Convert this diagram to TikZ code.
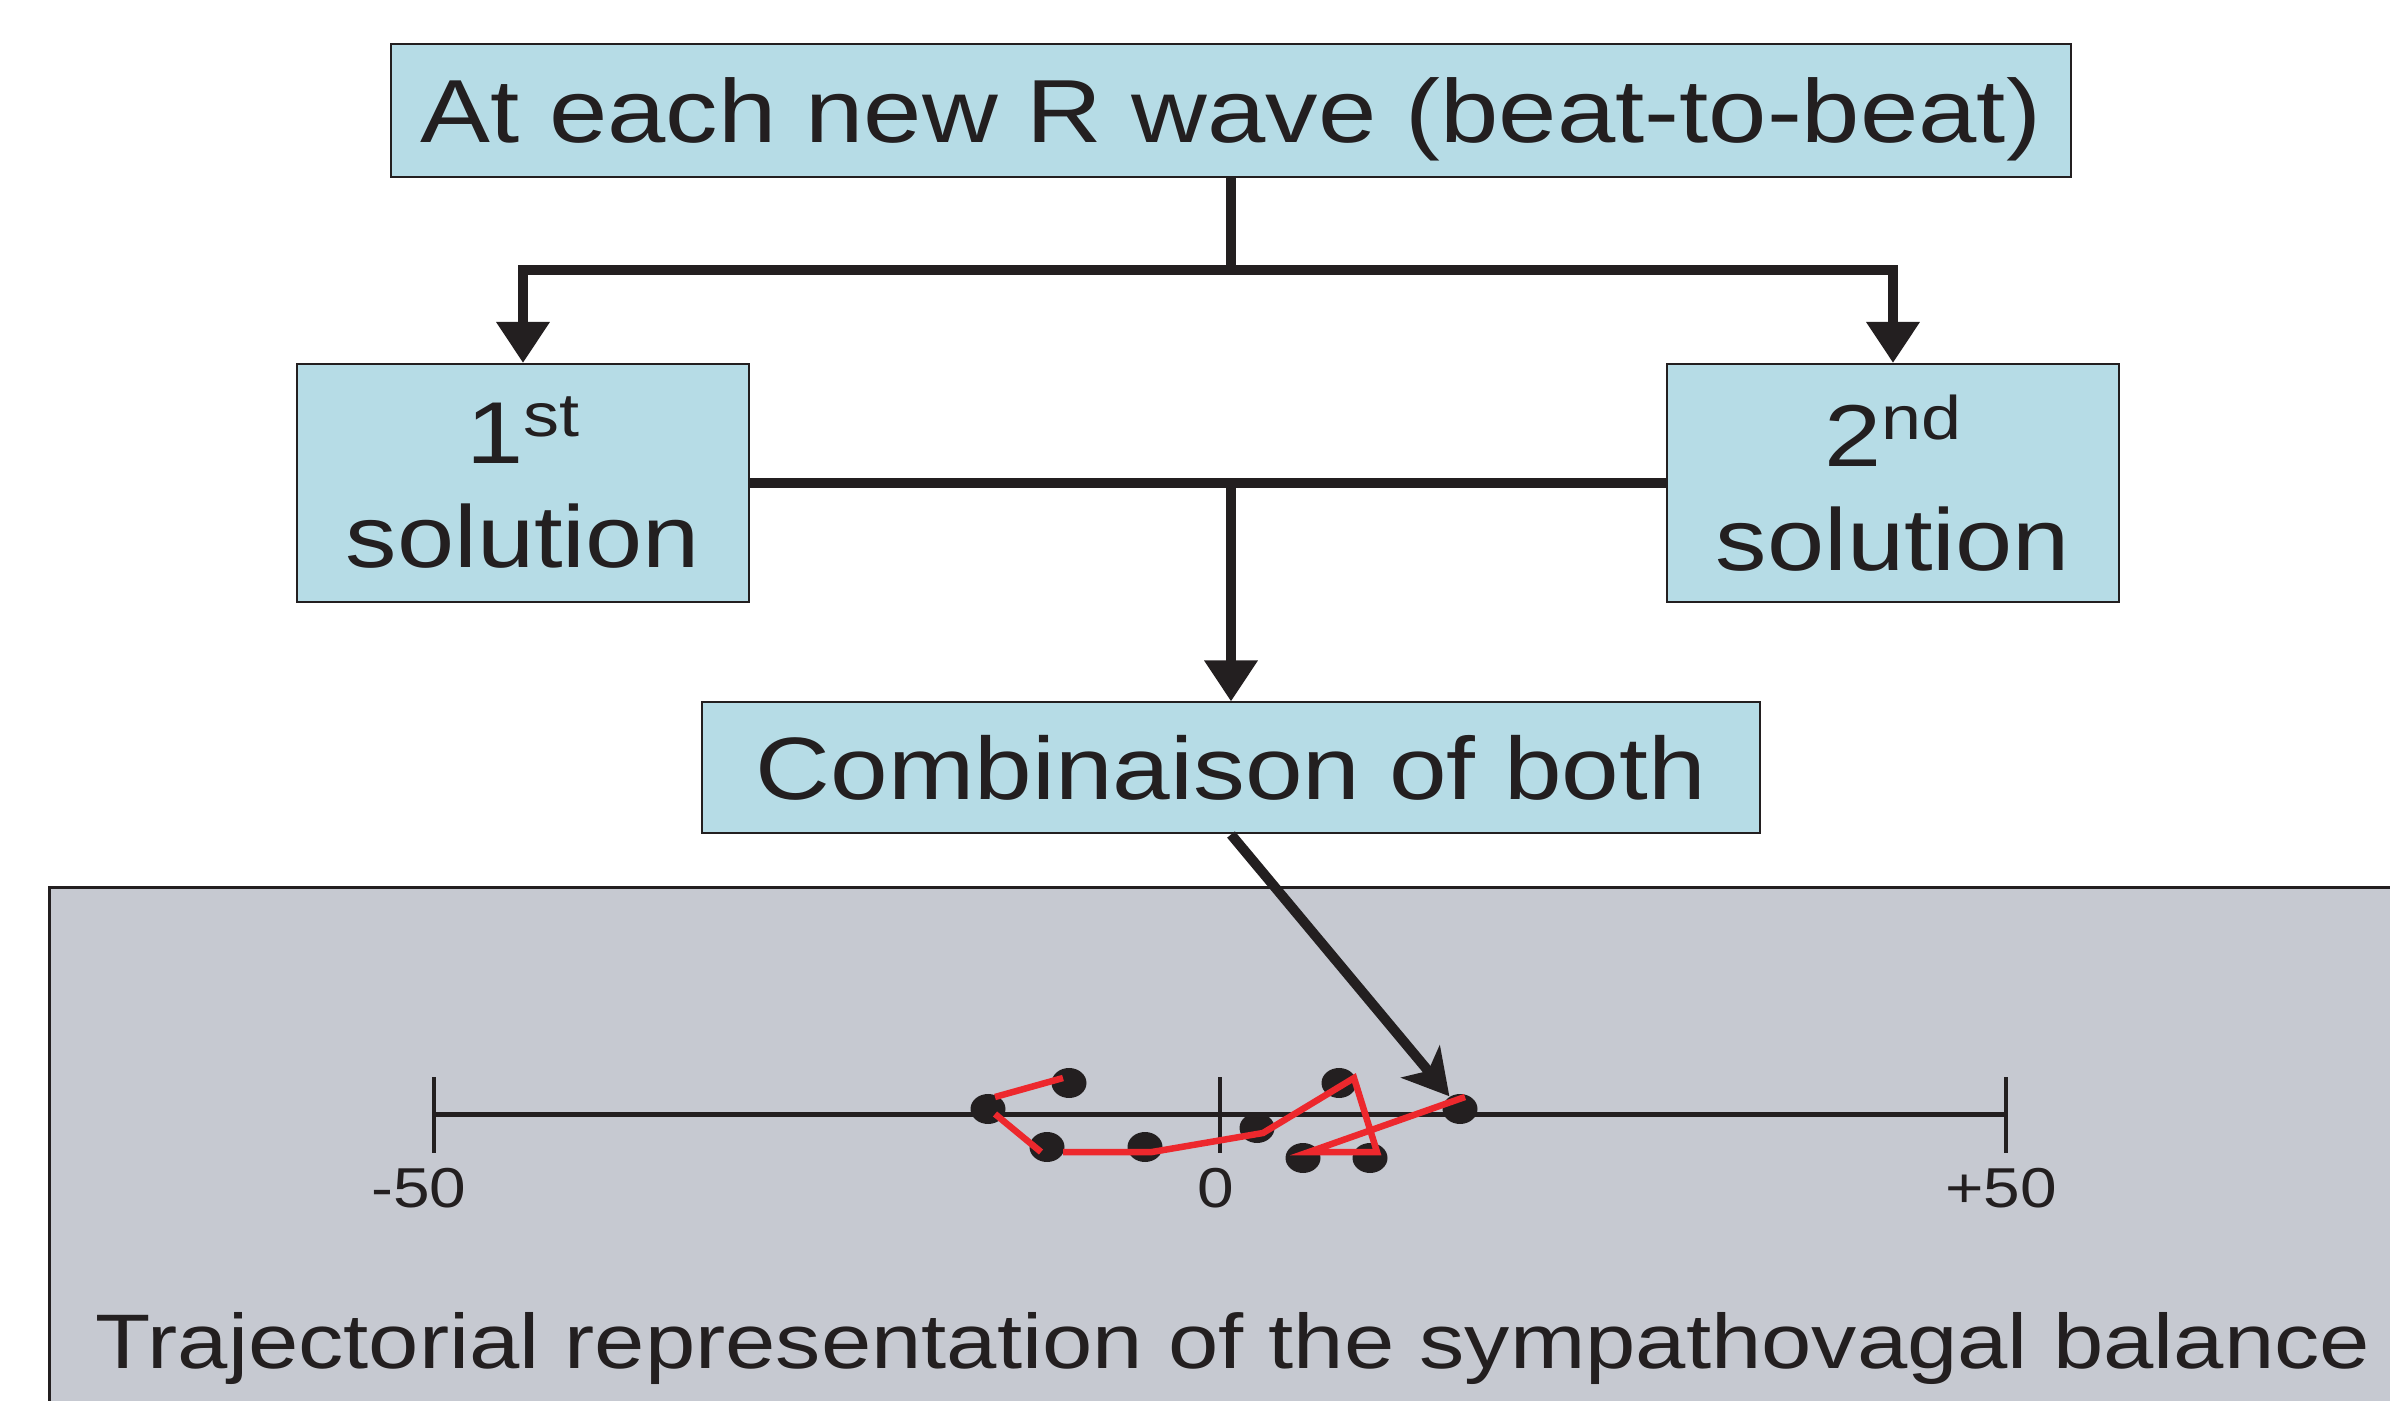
\documentclass[tikz,border=0pt]{standalone}
\usepackage{fontspec}
\setmainfont[FakeStretch=1.17]{Liberation Sans}
\usetikzlibrary{arrows.meta,shapes.geometric}
\definecolor{boxblue}{HTML}{B6DCE6}
\definecolor{panelgray}{HTML}{C6C9D1}
\definecolor{ink}{HTML}{231F20}
\definecolor{trajred}{HTML}{ED282D}
\newcommand\supr[1]{\raisebox{0.27cm}{\fontsize{17.5}{17.5}\selectfont #1}}
\tikzset{
  stepbox/.style={draw=ink,line width=0.02cm,fill=boxblue,inner sep=0pt,text=ink,align=center,font=\fontsize{25}{29.6}\selectfont},
  link/.style={draw=ink,line width=0.1cm},
  linkarrow/.style={link,-{Triangle[width=0.51cm,length=0.41cm]}},
  dot/.style={ellipse,fill=ink,minimum width=0.35cm,minimum height=0.3cm,inner sep=0pt},
  traj/.style={trajred,line width=0.065cm},
  ticklabel/.style={anchor=base,text=ink,font=\fontsize{16}{16}\selectfont}
}
\begin{document}
\begin{tikzpicture}[y=-1cm]
  \useasboundingbox (0,0) rectangle (23.9,14.01);
  \fill[panelgray] (0.49,8.88) rectangle (23.9,14.01);
  \draw[ink,line width=0.03cm] (0.49,14.01) -- (0.49,8.88) -- (23.9,8.88);
  \node[stepbox,minimum width=16.8cm,minimum height=1.33cm,text depth=0pt,font=\fontsize{25.5}{30}\selectfont] (rwave) at (12.31,1.105) {At each new R wave (beat-to-beat)};
  \node[stepbox,minimum width=4.52cm,minimum height=2.38cm] (first) at (5.23,4.83) {1\supr{st}\\solution};
  \node[stepbox,minimum width=4.52cm,minimum height=2.38cm] (second) at (18.93,4.83) {2\supr{nd}\\solution};
  \node[stepbox,minimum width=10.58cm,minimum height=1.31cm,font=\fontsize{25.2}{29.6}\selectfont] (combo) at (12.31,7.68) {Combinaison of both};
  \coordinate (split) at (12.31,2.70);
  \draw[link] (rwave) -- (split);
  \draw[linkarrow] (split) -| (first);
  \draw[linkarrow] (split) -| (second);
  \draw[link] (first) -- (second);
  \draw[linkarrow] (first -| combo) -- (combo);
  \draw[ink,line width=0.05cm] (4.34,11.15) -- (20.06,11.15);
  \foreach \x in {4.34,12.2,20.06}{\draw[ink,line width=0.04cm] (\x,10.77) -- (\x,11.53);}
  \node[ticklabel] (minus) at (4.19,12.08) {-50};
  \node[ticklabel] (zero) at (12.16,12.08) {0};
  \node[ticklabel] (plus) at (20.01,12.08) {+50};
  \foreach \n/\x/\y in {1/10.69/10.83,2/9.88/11.09,3/10.47/11.47,4/11.45/11.47,5/12.57/11.28,6/13.39/10.83,7/13.03/11.58,8/13.70/11.58,9/14.60/11.09}
    \node[dot] (d\n) at (\x,\y) {};
  \draw[link,-{Stealth[width=0.5cm,length=0.45cm,inset=0.12cm]}] (combo.south) -- (d9);
  \draw[traj] (10.63,10.78) -- (9.95,10.97);
  \draw[traj] (9.95,11.14) -- (10.41,11.52);
  \draw[traj] (10.63,11.52) -- (11.52,11.52) -- (12.63,11.33) -- (13.54,10.78) -- (13.77,11.52) -- (13.09,11.52) -- (14.65,10.97);
  \node[anchor=base,text=ink,font=\fontsize{22}{26}\selectfont] (caption) at (12.33,13.68) {Trajectorial representation of the sympathovagal balance};
\end{tikzpicture}
\end{document}
